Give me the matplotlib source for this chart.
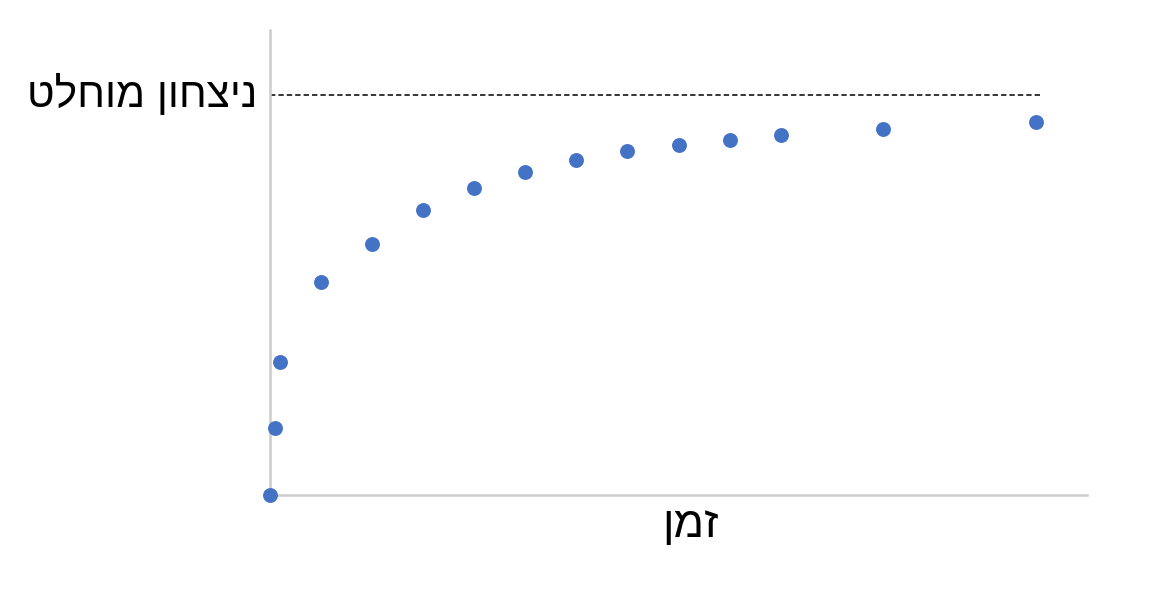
import matplotlib.pyplot as plt
import matplotlib.transforms as mtransforms

# data
time_vals = [0, 0.1, 0.2, 1, 2, 3, 4, 5, 6, 7, 8, 9, 10, 12, 15]
win_vals = [0, 16.75, 33.25, 53.25, 62.75, 71.25, 76.75, 80.75,
            83.75, 86, 87.5, 88.75, 90, 91.5, 93.25]
victory_level = 100
victory_end = 15.1

y_label = 'ניצחון מוחלט'
x_label = 'זמן'

# matplotlib has no bidi support, so reverse hebrew for display
def rtl(s):
    return s[::-1]

fonts = ['Liberation Sans', 'DejaVu Sans']

fig = plt.figure(figsize=(11.53, 5.99), dpi=100)
ax = fig.add_axes([270 / 1153, 104 / 599, 817 / 1153, 465 / 599])

ax.scatter(time_vals, win_vals, s=115, color='#4472C4', zorder=3,
           clip_on=False, linewidths=0)
ax.plot([0, victory_end], [victory_level, victory_level], color='black',
        linestyle=(0, (3.5, 2)), linewidth=1.1)

ax.set_xlim(0, 16.0)
ax.set_ylim(0, 116.25)

for side in ['top', 'right']:
    ax.spines[side].set_visible(False)
for side in ['left', 'bottom']:
    ax.spines[side].set_color('#cccccc')
    ax.spines[side].set_linewidth(1.8)
ax.set_xticks([])
ax.set_yticks([])

trans = mtransforms.blended_transform_factory(ax.transAxes, ax.transData)
ax.text(-0.015, victory_level, rtl(y_label), transform=trans,
        ha='right', va='center', fontsize=30.5, family=fonts)
ax.text(0.515, -0.065, rtl(x_label), transform=ax.transAxes,
        ha='center', va='center', fontsize=32, family=fonts)

fig.savefig('out.png', dpi=100)
